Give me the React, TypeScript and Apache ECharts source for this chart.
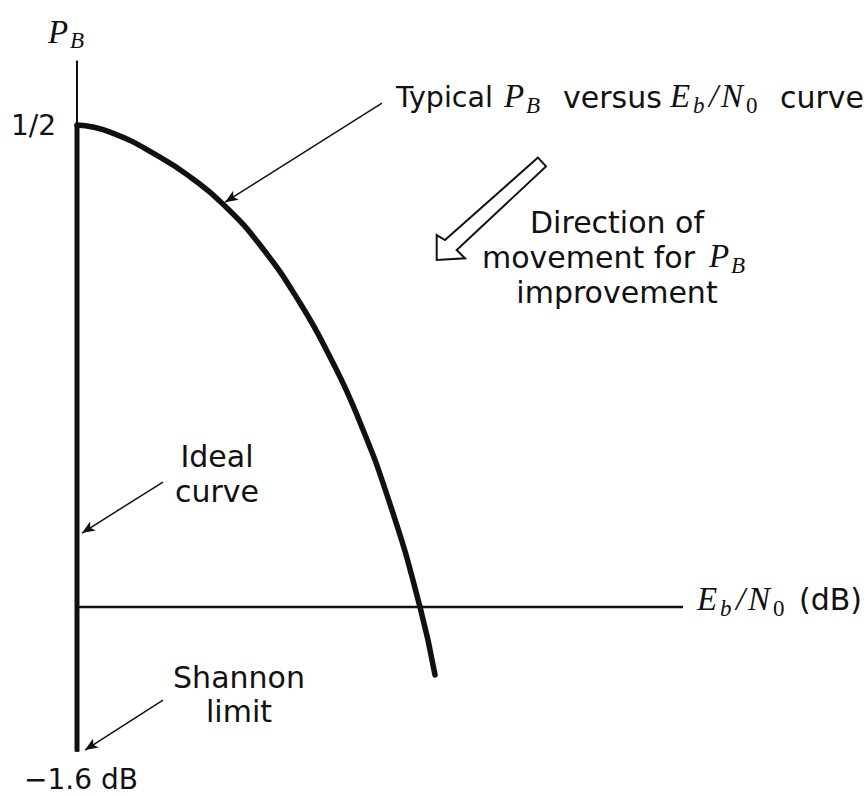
import React, { useEffect, useRef } from "react";
import * as echarts from "echarts";

// ---- Data (x: Eb/N0 in dB, y: bit error probability P_B, schematic linear units) ----
const shannonLimitDb = -1.6;
const halfPB = 0.5;
const axisTopPB = 0.567;
const axisBottomPB = -0.15;
const axisRightDb = 8.5;

const typicalEbN0 = [-1.6, -1.05, -0.217, 0.333, 0.833, 1.45, 2.117, 2.617, 3.067, 3.617, 4.117, 4.367];
const typicalPB = [0.5, 0.4927, 0.4668, 0.444, 0.418, 0.3755, 0.3154, 0.2593, 0.1992, 0.1068, 0, -0.0705];

// annotation pointer arrows [fromX, fromY] -> [toX, toY]
const pointerFrom = [[3.483, 0.5228], [-0.167, 0.1297], [-0.167, -0.0965]];
const pointerTo = [[0.867, 0.42], [-1.517, 0.0768], [-1.467, -0.1483]];

// hollow "direction of improvement" arrow outline
const bigArrowX = [6.083, 4.533, 4.395, 4.395, 4.867, 4.728, 6.217];
const bigArrowY = [0.4662, 0.3807, 0.3859, 0.36, 0.3617, 0.3703, 0.4571];

const yTickLabel = "1/2";
const xTickLabel = "\u22121.6 dB";

// ---- view ----
const W = 867;
const H = 796;
const X_MIN = -2.8833;
const X_MAX = 11.5667;
const Y_MIN = -0.196;
const Y_MAX = 0.6297;

const INK = "#111111";
const SANS = "DejaVu Sans";
const SERIF = "Liberation Serif";

type T = { t: string; x: number; y: number; fs: number; f?: string; it?: boolean; a?: string };

const MF = 33; // math letter size
const SF = 23; // subscript size
const TF = 30; // body text size

const texts: T[] = [
  { t: "P", x: 48, y: 32, fs: MF, f: SERIF, it: true },
  { t: "B", x: 70, y: 40, fs: SF, f: SERIF, it: true },
  { t: yTickLabel, x: 56, y: 125, fs: 28, a: "right" },
  { t: "Typical", x: 396, y: 97.5, fs: 28.5 },
  { t: "P", x: 504, y: 96, fs: MF, f: SERIF, it: true },
  { t: "B", x: 526, y: 105, fs: SF, f: SERIF, it: true },
  { t: "versus", x: 563, y: 97.5, fs: TF },
  { t: "E", x: 670, y: 96, fs: MF, f: SERIF, it: true },
  { t: "b", x: 693, y: 105, fs: SF, f: SERIF, it: true },
  { t: "/", x: 709, y: 96, fs: MF, f: SERIF, it: true },
  { t: "N", x: 721, y: 96, fs: MF, f: SERIF, it: true },
  { t: "0", x: 746, y: 105, fs: SF, f: SERIF },
  { t: "curve", x: 780, y: 97.5, fs: TF },
  { t: "Direction of", x: 617, y: 222.5, fs: TF, a: "center" },
  { t: "movement for", x: 482, y: 257.5, fs: TF },
  { t: "P", x: 709, y: 256, fs: MF, f: SERIF, it: true },
  { t: "B", x: 731, y: 265, fs: SF, f: SERIF, it: true },
  { t: "improvement", x: 617, y: 292.5, fs: TF, a: "center" },
  { t: "Ideal", x: 217, y: 456.5, fs: TF, a: "center" },
  { t: "curve", x: 217, y: 491.5, fs: TF, a: "center" },
  { t: "Shannon", x: 239, y: 677.5, fs: TF, a: "center" },
  { t: "limit", x: 239, y: 711.5, fs: TF, a: "center" },
  { t: xTickLabel, x: 24, y: 779, fs: 28 },
  { t: "E", x: 697, y: 599, fs: MF, f: SERIF, it: true },
  { t: "b", x: 720, y: 608, fs: SF, f: SERIF, it: true },
  { t: "/", x: 736, y: 599, fs: MF, f: SERIF, it: true },
  { t: "N", x: 748, y: 599, fs: MF, f: SERIF, it: true },
  { t: "0", x: 773, y: 608, fs: SF, f: SERIF },
  { t: "(dB)", x: 799, y: 599.5, fs: TF },
];

export default function App() {
  const ref = useRef<HTMLDivElement>(null);

  useEffect(() => {
    if (!ref.current) return;
    const chart = echarts.init(ref.current, null, { renderer: "svg", width: W, height: H });

    const curve = typicalEbN0.map((x, i) => [x, typicalPB[i]]);

    chart.setOption({
      animation: false,
      backgroundColor: "#ffffff",
      grid: { left: 0, right: 0, top: 0, bottom: 0, containLabel: false },
      xAxis: { type: "value", min: X_MIN, max: X_MAX, show: false },
      yAxis: { type: "value", min: Y_MIN, max: Y_MAX, show: false },
      series: [
        {
          name: "PB axis",
          type: "line",
          data: [[shannonLimitDb, axisBottomPB], [shannonLimitDb, axisTopPB]],
          symbol: "none",
          lineStyle: { color: INK, width: 2 },
          silent: true,
        },
        {
          name: "Eb/N0 axis",
          type: "line",
          data: [[shannonLimitDb, 0], [axisRightDb, 0]],
          symbol: "none",
          lineStyle: { color: INK, width: 2.5 },
          silent: true,
          markLine: {
            silent: true,
            symbol: ["none", "arrow"],
            symbolSize: [8, 13],
            label: { show: false },
            lineStyle: { color: INK, width: 1.5, type: "solid" },
            emphasis: { disabled: true },
            data: pointerFrom.map((f, i) => [{ coord: f }, { coord: pointerTo[i] }]),
          },
        },
        {
          name: "Ideal curve",
          type: "line",
          data: [[shannonLimitDb, halfPB], [shannonLimitDb, axisBottomPB]],
          symbol: "none",
          lineStyle: { color: INK, width: 5 },
          silent: true,
        },
        {
          name: "Typical curve",
          type: "line",
          data: curve,
          symbol: "none",
          smooth: 0.5,
          lineStyle: { color: INK, width: 5.5, cap: "round" },
          silent: true,
        },
      ],
    });

    const arrowPts = bigArrowX.map((x, i) =>
      chart.convertToPixel({ xAxisIndex: 0, yAxisIndex: 0 }, [x, bigArrowY[i]]) as number[]
    );

    chart.setOption({
      graphic: [
        {
          type: "polygon",
          silent: true,
          shape: { points: arrowPts },
          style: { fill: "#ffffff", stroke: INK, lineWidth: 2, lineJoin: "miter" },
        },
        ...texts.map((s) => ({
          type: "text",
          silent: true,
          x: s.x,
          y: s.y,
          style: {
            text: s.t,
            fill: INK,
            fontSize: s.fs,
            fontFamily: s.f || SANS,
            fontStyle: s.it ? "italic" : "normal",
            textAlign: s.a || "left",
            align: s.a || "left",
            textVerticalAlign: "middle",
            verticalAlign: "middle",
          },
        })),
      ],
    });

    return () => chart.dispose();
  }, []);

  return (
    <div
      ref={ref}
      style={{ position: "fixed", left: 0, top: 0, width: W, height: H, background: "#ffffff" }}
    />
  );
}
